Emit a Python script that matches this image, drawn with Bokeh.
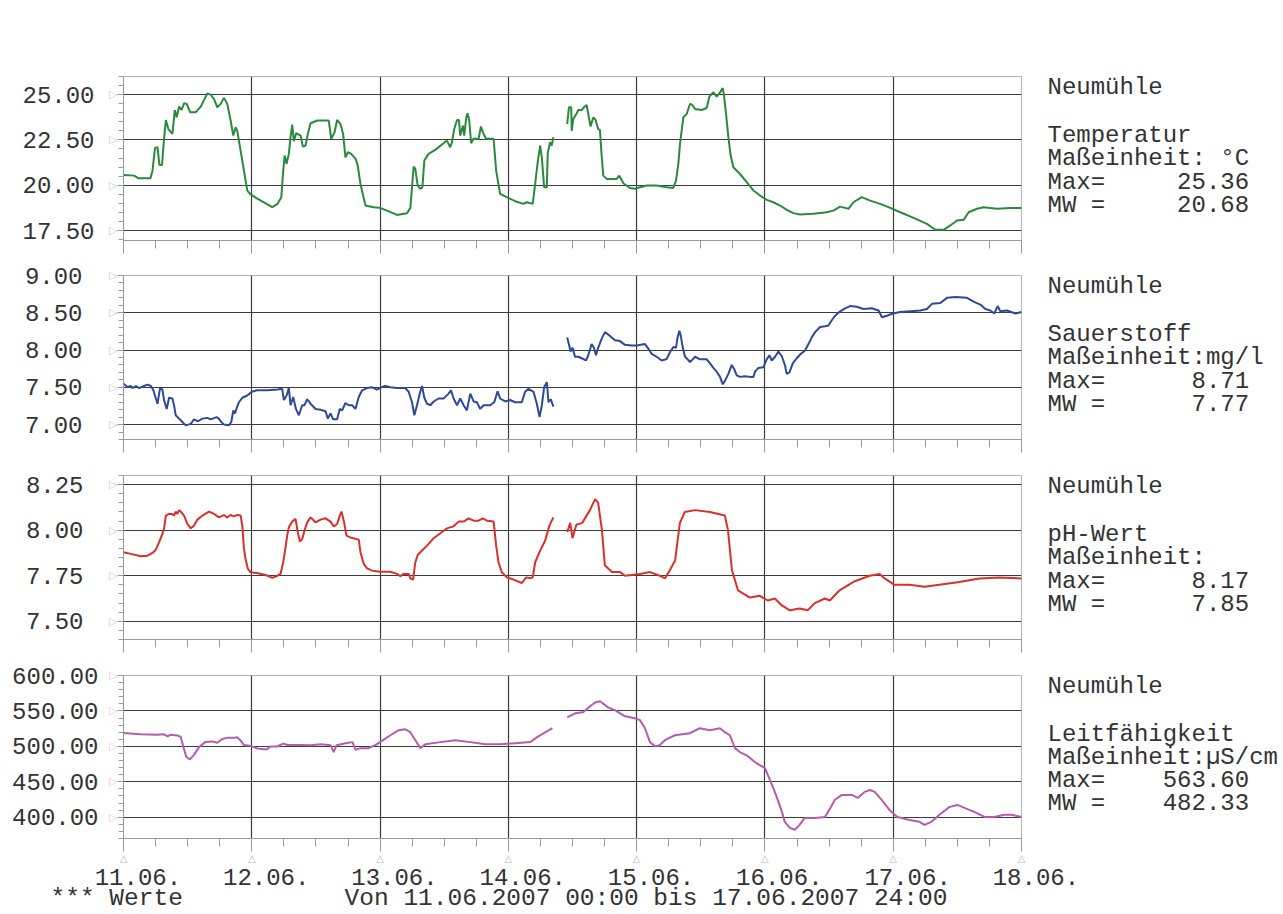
import math
from bokeh.plotting import figure
from bokeh.models import (Range1d, FixedTicker, NumeralTickFormatter, LinearAxis,
                          CustomJSTickFormatter, AllLabels)
from bokeh.layouts import column
from bokeh.embed import file_html
from bokeh.resources import INLINE

NaN = float("nan")
FONT = "Liberation Mono"
TXT = "#333333"
NB = "\u00a0"

# ---------------- data (day offset from 11.06.2007 00:00) ----------------
date_labels = ["11.06.", "12.06.", "13.06.", "14.06.", "15.06.", "16.06.", "17.06.", "18.06."]
station = "Neumühle"
footer = ["*** Werte", "Von 11.06.2007 00:00", "bis 17.06.2007 24:00"]

temp_day = [0, 0.083, 0.114, 0.21, 0.226, 0.246, 0.265, 0.28, 0.30, 0.316, 0.33, 0.35, 0.381, 0.40, 0.415,
            0.433, 0.452, 0.472, 0.493, 0.519, 0.563, 0.602, 0.654, 0.68, 0.705, 0.731, 0.757, 0.783, 0.809,
            0.835, 0.856, 0.874, 0.887, 0.913, 0.939, 0.965, 0.991, 1.04, 1.16, 1.2, 1.23, 1.245, 1.256, 1.271,
            1.289, 1.302, 1.315, 1.328, 1.346, 1.38, 1.398, 1.419, 1.437, 1.458, 1.51, 1.6, 1.619, 1.645, 1.665,
            1.691, 1.712, 1.73, 1.75, 1.775, 1.81, 1.826, 1.847, 1.886, 1.95, 2.0, 2.054, 2.132, 2.21, 2.236,
            2.25, 2.262, 2.275, 2.293, 2.314, 2.33, 2.345, 2.378, 2.43, 2.495, 2.521, 2.547, 2.56, 2.578, 2.6,
            2.615, 2.625, 2.646, 2.656, 2.672, 2.682, 2.695, 2.71, 2.728, 2.768, 2.786, 2.807, 2.827, 2.885,
            2.905, 2.936, 2.988, 3.053, 3.118, 3.144, 3.19, 3.209, 3.227, 3.248, 3.261, 3.279, 3.30, 3.307,
            3.325, 3.338, 3.351, 3.40,
            3.459, 3.472, 3.49, 3.494, 3.506, 3.53, 3.545, 3.571, 3.589, 3.61, 3.623, 3.641, 3.662, 3.68, 3.70,
            3.714, 3.727, 3.74, 3.766, 3.844, 3.865, 3.896, 3.948, 3.987, 4.026, 4.078, 4.156, 4.234, 4.286,
            4.307, 4.325, 4.338, 4.364, 4.377, 4.39, 4.416, 4.434, 4.455, 4.507, 4.546, 4.567, 4.598, 4.624,
            4.645, 4.671, 4.681, 4.697, 4.715, 4.733, 4.754, 4.806, 4.858, 4.91, 4.962, 5.014, 5.066, 5.118,
            5.17, 5.222, 5.274, 5.378, 5.482, 5.534, 5.586, 5.625, 5.651, 5.69, 5.755, 5.82, 5.899, 5.977,
            6.055, 6.159, 6.263, 6.328, 6.393, 6.445, 6.497, 6.549, 6.588, 6.653, 6.705, 6.809, 6.913, 7.0]
temp_val = [20.57, 20.53, 20.39, 20.39, 20.8, 22.06, 22.1, 21.12, 21.12, 22.56, 23.6, 23.1, 22.83, 24.15, 23.75,
            24.34, 24.15, 24.52, 24.49, 24.03, 24.03, 24.34, 25.07, 25.0, 24.76, 24.3, 24.49, 24.82, 24.49,
            23.57, 22.74, 23.2, 23.0, 21.9, 20.8, 19.7, 19.49, 19.28, 18.79, 18.97, 19.34, 20.8, 21.64, 21.18,
            21.73, 22.65, 23.35, 22.43, 22.87, 22.74, 22.13, 22.19, 22.83, 23.42, 23.57, 23.57, 22.56, 22.92, 23.6,
            23.38, 22.83, 21.54, 21.82, 21.73, 21.45, 21.08, 20.07, 18.88, 18.79, 18.75, 18.6, 18.36, 18.45, 18.75,
            19.98, 21.03, 20.9, 19.98, 19.8, 19.89, 21.36, 21.73, 21.95, 22.32, 22.46, 22.1, 22.37, 23.1, 23.6,
            23.6, 22.74, 23.29, 22.74, 23.75, 23.97, 23.57, 22.32, 22.56, 22.56, 23.24, 22.83, 22.56, 22.56,
            20.8, 19.52, 19.34, 19.12, 18.97, 19.06, 18.97, 20.07, 21.18, 22.19, 21.54, 19.89, 19.89, 21.77,
            22.37, 22.19, 22.65, NaN,
            23.38, 24.3, 24.3, 23.0, 23.66, 23.93, 24.15, 24.15, 24.3, 24.43, 23.93, 23.24, 23.75, 23.6, 23.1,
            23.05, 21.64, 20.53, 20.35, 20.35, 20.53, 20.11, 19.85, 19.8, 19.89, 19.98, 19.98, 19.89, 19.85,
            20.26, 21.18, 22.28, 23.75, 23.84, 23.93, 24.49, 24.43, 24.21, 24.15, 24.26, 24.89, 25.13, 24.89,
            25.07, 25.36, 24.94, 23.93, 22.65, 21.64, 20.99, 20.62, 20.17, 19.71, 19.43, 19.19, 19.06, 18.88,
            18.64, 18.46, 18.38, 18.42, 18.51, 18.6, 18.82, 18.75, 18.7, 19.06, 19.34, 19.15, 18.97, 18.75,
            18.51, 18.2, 17.87, 17.54, 17.54, 17.78, 18.05, 18.09, 18.51, 18.7, 18.79, 18.7, 18.75, 18.75]

o2_day = [0, 0.031, 0.057, 0.070, 0.096, 0.122, 0.16, 0.187, 0.213, 0.233, 0.252, 0.265, 0.285, 0.303, 0.316,
          0.337, 0.355, 0.381, 0.394, 0.407, 0.433, 0.459, 0.485, 0.524, 0.55, 0.581, 0.615, 0.654, 0.68,
          0.726, 0.744, 0.757, 0.783, 0.822, 0.84, 0.856, 0.869, 0.882, 0.9, 0.926, 0.965, 1.0, 1.04, 1.12,
          1.2, 1.237, 1.25, 1.271, 1.289, 1.302, 1.323, 1.344, 1.367, 1.393, 1.411, 1.432, 1.458, 1.497,
          1.536, 1.575, 1.593, 1.614, 1.634, 1.665, 1.686, 1.704, 1.73, 1.756, 1.782, 1.808, 1.834, 1.86,
          1.899, 1.938, 1.977, 2.008, 2.04, 2.08, 2.132, 2.197, 2.223, 2.249, 2.267, 2.288, 2.309, 2.327,
          2.345, 2.366, 2.392, 2.418, 2.456, 2.495, 2.534, 2.553, 2.573, 2.6, 2.625, 2.651, 2.677, 2.703,
          2.729, 2.755, 2.781, 2.807, 2.859, 2.89, 2.916, 2.936, 2.975, 3.014, 3.053, 3.105, 3.131, 3.157,
          3.196, 3.222, 3.243, 3.261, 3.279, 3.30, 3.313, 3.331, 3.351, 3.40,
          3.459, 3.474, 3.485, 3.501, 3.519, 3.545, 3.571, 3.605, 3.623, 3.649, 3.667, 3.683, 3.70, 3.727,
          3.753, 3.792, 3.831, 3.87, 3.909, 3.961, 4.0, 4.065, 4.091, 4.117, 4.156, 4.195, 4.234, 4.26,
          4.286, 4.307, 4.317, 4.333, 4.343, 4.359, 4.377, 4.395, 4.416, 4.437, 4.455, 4.494, 4.546, 4.572,
          4.598, 4.624, 4.65, 4.671, 4.689, 4.715, 4.741, 4.759, 4.78, 4.806, 4.845, 4.884, 4.91, 4.923,
          4.949, 4.988, 5.014, 5.035, 5.053, 5.079, 5.105, 5.131, 5.157, 5.17, 5.191, 5.217, 5.248, 5.28,
          5.313, 5.339, 5.365, 5.391, 5.43, 5.469, 5.495, 5.521, 5.547, 5.586, 5.625, 5.664, 5.716, 5.768,
          5.833, 5.886, 5.912, 5.951, 5.997, 6.055, 6.133, 6.211, 6.263, 6.302, 6.367, 6.419, 6.484, 6.575,
          6.627, 6.679, 6.718, 6.757, 6.788, 6.814, 6.835, 6.887, 6.953, 7.0]
o2_val = [7.549, 7.504, 7.518, 7.49, 7.518, 7.49, 7.518, 7.536, 7.518, 7.46, 7.35, 7.28, 7.49, 7.47, 7.33,
          7.21, 7.36, 7.35, 7.26, 7.125, 7.08, 7.035, 6.99, 7.01, 7.07, 7.045, 7.08, 7.09, 7.07,
          7.10, 7.08, 7.045, 7.0, 6.99, 7.035, 7.19, 7.15, 7.22, 7.30, 7.36, 7.39, 7.44, 7.46, 7.46,
          7.47, 7.48, 7.33, 7.39, 7.49, 7.26, 7.37, 7.21, 7.125, 7.26, 7.26, 7.34, 7.28, 7.21,
          7.20, 7.18, 7.08, 7.15, 7.07, 7.07, 7.21, 7.19, 7.29, 7.26, 7.26, 7.21, 7.37, 7.46,
          7.49, 7.50, 7.47, 7.50, 7.518, 7.50, 7.49, 7.49, 7.44, 7.30, 7.125, 7.26, 7.415, 7.518,
          7.36, 7.28, 7.26, 7.31, 7.35, 7.35, 7.415, 7.46, 7.35, 7.26, 7.35, 7.26, 7.19, 7.415,
          7.31, 7.30, 7.21, 7.26, 7.26, 7.30, 7.445, 7.35, 7.31, 7.33, 7.30, 7.30, 7.44, 7.48,
          7.44, 7.28, 7.10, 7.26, 7.50, 7.57, 7.30, 7.34, 7.24, NaN,
          8.17, 8.06, 7.98, 8.03, 7.91, 7.91, 7.89, 7.86, 7.93, 8.08, 8.03, 7.93, 8.03, 8.15,
          8.24, 8.19, 8.13, 8.12, 8.07, 8.06, 8.06, 8.08, 8.02, 7.95, 7.91, 7.86, 7.88, 7.97,
          8.04, 8.03, 8.15, 8.26, 8.20, 8.04, 7.91, 7.88, 7.84, 7.875, 7.91, 7.875, 7.875, 7.82,
          7.76, 7.71, 7.64, 7.54, 7.59, 7.68, 7.80, 7.75, 7.66, 7.64, 7.65, 7.64, 7.64, 7.71,
          7.76, 7.77, 7.875, 7.93, 7.86, 7.91, 7.98, 7.92, 7.79, 7.68, 7.70, 7.82, 7.89, 7.95,
          7.995, 8.08, 8.17, 8.24, 8.31, 8.32, 8.33, 8.40, 8.46, 8.52, 8.56, 8.59, 8.58, 8.55,
          8.56, 8.53, 8.44, 8.46, 8.49, 8.51, 8.52, 8.53, 8.55, 8.62, 8.63, 8.70, 8.71, 8.70,
          8.65, 8.61, 8.55, 8.53, 8.49, 8.59, 8.52, 8.53, 8.49, 8.51]

ph_day = [0, 0.057, 0.135, 0.187, 0.226, 0.252, 0.278, 0.303, 0.316, 0.33, 0.355, 0.381, 0.394, 0.407, 0.42,
          0.433, 0.451, 0.472, 0.498, 0.524, 0.55, 0.576, 0.615, 0.667, 0.706, 0.744, 0.783, 0.809, 0.835,
          0.861, 0.887, 0.913, 0.926, 0.939, 0.952, 0.97, 0.991, 1.04, 1.108, 1.16, 1.2, 1.224, 1.245, 1.263,
          1.276, 1.289, 1.315, 1.341, 1.359, 1.375, 1.393, 1.411, 1.432, 1.458, 1.497, 1.536, 1.575, 1.614,
          1.639, 1.665, 1.686, 1.699, 1.717, 1.738, 1.769, 1.808, 1.834, 1.847, 1.873, 1.899, 1.938, 1.997,
          2.08, 2.132, 2.158, 2.184, 2.223, 2.236, 2.257, 2.275, 2.293, 2.327, 2.366, 2.418, 2.47, 2.521,
          2.573, 2.612, 2.651, 2.69, 2.729, 2.768, 2.8, 2.833, 2.885, 2.905, 2.923, 2.949, 2.988, 3.04,
          3.105, 3.139, 3.17, 3.19, 3.209, 3.248, 3.287, 3.32, 3.351, 3.40,
          3.459, 3.482, 3.5, 3.53, 3.576, 3.636, 3.676, 3.70, 3.73, 3.752, 3.807, 3.87, 3.909, 4.026,
          4.104, 4.18, 4.22, 4.259, 4.30, 4.337, 4.376, 4.455, 4.571, 4.688, 4.712, 4.743, 4.79, 4.883,
          4.96, 5.022, 5.077, 5.132, 5.194, 5.272, 5.333, 5.389, 5.467, 5.506, 5.582, 5.70, 5.817, 5.894,
          5.933, 6.01, 6.127, 6.244, 6.36, 6.516, 6.672, 6.828, 7.0]
ph_val = [7.879, 7.87, 7.857, 7.86, 7.875, 7.893, 7.934, 7.98, 8.007, 8.08, 8.089, 8.089, 8.08, 8.102, 8.089,
          8.11, 8.098, 8.08, 8.034, 8.01, 8.025, 8.058, 8.08, 8.102, 8.089, 8.07, 8.083, 8.07, 8.083,
          8.076, 8.083, 8.08, 8.025, 7.897, 7.84, 7.787, 7.769, 7.765, 7.754, 7.738, 7.75, 7.76, 7.824, 7.906,
          7.97, 8.016, 8.047, 8.062, 7.988, 7.937, 7.952, 7.998, 8.043, 8.07, 8.043, 8.058, 8.065, 8.047,
          8.02, 8.034, 8.08, 8.102, 8.052, 7.97, 7.96, 7.952, 7.948, 7.879, 7.815, 7.79, 7.778, 7.772,
          7.772, 7.76, 7.747, 7.76, 7.76, 7.736, 7.729, 7.824, 7.864, 7.888, 7.915, 7.956, 7.983, 8.01,
          8.021, 8.047, 8.047, 8.065, 8.052, 8.052, 8.065, 8.052, 8.047, 7.915, 7.824, 7.769, 7.741, 7.729,
          7.71, 7.741, 7.736, 7.741, 7.824, 7.888, 7.943, 8.025, 8.07, NaN,
          7.989, 8.04, 7.956, 8.03, 8.04, 8.11, 8.17, 8.15, 7.998, 7.807, 7.77, 7.77, 7.75, 7.76,
          7.77, 7.75, 7.735, 7.78, 7.834, 8.04, 8.10, 8.11, 8.10, 8.08, 8.0, 7.78, 7.67, 7.63,
          7.64, 7.614, 7.625, 7.587, 7.56, 7.57, 7.56, 7.6, 7.625, 7.614, 7.67, 7.72, 7.75, 7.76,
          7.735, 7.70, 7.70, 7.69, 7.70, 7.715, 7.735, 7.74, 7.735]

lf_day = [0, 0.135, 0.265, 0.317, 0.343, 0.369, 0.42, 0.446, 0.467, 0.49, 0.518, 0.549, 0.589, 0.64, 0.692,
          0.731, 0.77, 0.809, 0.86, 0.886, 0.912, 0.939, 0.996, 1.042, 1.094, 1.12, 1.145, 1.197, 1.245,
          1.276, 1.38, 1.458, 1.536, 1.614, 1.638, 1.661, 1.73, 1.785, 1.808, 1.847, 1.909, 1.963, 2.0,
          2.08, 2.142, 2.197, 2.236, 2.275, 2.314, 2.353, 2.47, 2.587, 2.704, 2.82, 2.937, 3.054, 3.17,
          3.225, 3.29, 3.343, 3.40,
          3.459, 3.52, 3.583, 3.637, 3.676, 3.715, 3.777, 3.83, 3.91, 3.987, 4.026, 4.065, 4.104, 4.143,
          4.18, 4.22, 4.298, 4.415, 4.493, 4.571, 4.649, 4.688, 4.727, 4.766, 4.805, 4.867, 4.922, 4.96,
          5.0, 5.04, 5.077, 5.1, 5.132, 5.155, 5.194, 5.233, 5.27, 5.31, 5.389, 5.467, 5.5, 5.544,
          5.6, 5.677, 5.724, 5.777, 5.817, 5.856, 5.91, 5.972, 6.033, 6.127, 6.205, 6.244, 6.298, 6.36,
          6.44, 6.5, 6.555, 6.633, 6.711, 6.789, 6.866, 6.921, 7.0]
lf_val = [519, 517, 516.5, 517, 514, 516.5, 515.5, 513.5, 499, 485, 481.6, 488, 499, 506.3, 507,
          505, 510.5, 512, 512, 513, 508.5, 501.8, 500.4, 497, 496, 496, 499.8, 499.8, 504,
          502, 502, 501.7, 503, 501.7, 492, 501.7, 504.5, 506, 495, 497.5, 497.5, 501.7, 506,
          515.7, 522.7, 524, 520, 508.7, 497.5, 503, 506, 508.7, 506, 503, 503, 504.5, 506,
          513, 520, 525.6, NaN,
          541, 546.6, 548, 556.5, 562, 563.6, 555, 551, 542.4, 539.6, 537, 525.6, 506, 500.3,
          501.7, 508.7, 515.7, 518.5, 525.6, 522.8, 525.6, 520, 515.7, 497.5, 492, 486.2, 477.8, 473.6,
          469.4, 452.5, 435.7, 424.4, 407.6, 393.5, 385, 382.3, 389.3, 399, 399, 400.4, 410, 424.4,
          431.5, 431.5, 427.3, 435.7, 438.5, 435.7, 424.4, 410, 400.4, 396, 393.5, 389.3, 393.5, 403.4,
          414.6, 417.4, 413.2, 407.6, 400.4, 400.4, 403.4, 403.4, 400.4]

panels = [
    dict(name="Temperatur", unit="Maßeinheit: °C", vmax="25.36", mw="20.68",
         x=temp_day, y=temp_val, color="#2a8a3c", tri="#b9d3bb",
         yr=(16.95, 26.0), majors=[17.5, 20.0, 22.5, 25.0], minor_step=0.5, standoff=6,
         top=76, bottom=17),
    dict(name="Sauerstoff", unit="Maßeinheit:mg/l", vmax="8.71", mw="7.77",
         x=o2_day, y=o2_val, color="#2c4a96", tri="#c3c9da",
         yr=(6.8, 9.0), majors=[7.0, 7.5, 8.0, 8.5, 9.0], minor_step=0.1, standoff=18,
         top=18, bottom=17),
    dict(name="pH-Wert", unit="Maßeinheit:", vmax="8.17", mw="7.85",
         x=ph_day, y=ph_val, color="#d8302c", tri="#ecbcbc",
         yr=(7.40, 8.30), majors=[7.5, 7.75, 8.0, 8.25], minor_step=0.05, standoff=17,
         top=19, bottom=17),
    dict(name="Leitfähigkeit", unit="Maßeinheit:µS/cm", vmax="563.60", mw="482.33",
         x=lf_day, y=lf_val, color="#b45cae", tri="#e6c6de",
         yr=(370.0, 600.0), majors=[400.0, 450.0, 500.0, 550.0, 600.0], minor_step=10.0, standoff=2,
         top=19, bottom=75),
]

W = 1283
LEFT = 123
FW = 898
RIGHT = W - LEFT - FW   # 262
FH = 164
TEXT_X = 1047
# vertical centres of the right-hand text rows, px below the frame top
ROW_OFF = [10.6, 59.0, 82.3, 105.6, 129.0]

# footer line: one monospaced string, padded so that it sits centred under the frame
footer_text = footer[0] + NB * 11 + footer[1] + NB + footer[2] + NB * 10

figs = []
for i, pd in enumerate(panels):
    y0, y1 = pd["yr"]
    H = pd["top"] + FH + pd["bottom"]
    p = figure(width=W, height=H, output_backend="svg", toolbar_location=None,
               x_range=Range1d(0, 7), y_range=Range1d(y0, y1),
               min_border_left=LEFT, min_border_right=RIGHT,
               min_border_top=pd["top"], min_border_bottom=pd["bottom"])
    p.outline_line_color = "#b4b4b4"
    p.outline_line_width = 1
    p.border_fill_color = "white"

    p.xgrid.ticker = FixedTicker(ticks=[1, 2, 3, 4, 5, 6])
    p.xgrid.grid_line_color = "#3c3c3c"
    p.xgrid.grid_line_width = 1.2
    p.ygrid.ticker = FixedTicker(ticks=pd["majors"])
    p.ygrid.grid_line_color = "#3c3c3c"
    p.ygrid.grid_line_width = 1.2

    minors = []
    v = math.ceil(y0 / pd["minor_step"] - 1e-6) * pd["minor_step"]
    while v <= y1 + 1e-9:
        minors.append(round(v, 4))
        v += pd["minor_step"]

    # inner y axis: ticks + small triangles
    ya = p.yaxis[0]
    ya.ticker = FixedTicker(ticks=pd["majors"], minor_ticks=minors)
    ya.formatter = CustomJSTickFormatter(code="return '\u25b7'")
    ya.axis_line_color = "#9a9a9a"
    ya.major_tick_line_color = "#9a9a9a"
    ya.minor_tick_line_color = "#9a9a9a"
    ya.major_tick_in = 0
    ya.major_tick_out = 6
    ya.minor_tick_in = 0
    ya.minor_tick_out = 5
    ya.major_label_standoff = 0
    ya.major_label_text_font = "DejaVu Sans"
    ya.major_label_text_font_size = "11px"
    ya.major_label_text_color = pd["tri"]

    # outer y axis: numbers
    na = LinearAxis(ticker=FixedTicker(ticks=pd["majors"]),
                    formatter=NumeralTickFormatter(format="0.00"))
    na.axis_line_color = None
    na.major_tick_line_color = None
    na.minor_tick_line_color = None
    na.major_label_standoff = pd["standoff"]
    na.major_label_text_font = FONT
    na.major_label_text_font_size = "24px"
    na.major_label_text_color = TXT
    p.add_layout(na, "left")

    # right-hand text block as a right axis
    ppu = FH / (y1 - y0)
    tpos = [y1 - off / ppu for off in ROW_OFF]
    pad = 14 - 4 - len(pd["vmax"])
    pad2 = 14 - 4 - len(pd["mw"])
    texts = [station, pd["name"], pd["unit"],
             "Max=" + NB * pad + pd["vmax"], "MW =" + NB * pad2 + pd["mw"]]
    ra = LinearAxis(ticker=FixedTicker(ticks=tpos))
    ra.major_label_overrides = {t: s for t, s in zip(tpos, texts)}
    ra.major_label_policy = AllLabels()
    ra.axis_line_color = None
    ra.major_tick_line_color = None
    ra.minor_tick_line_color = None
    ra.major_tick_out = 0
    ra.major_label_standoff = TEXT_X - (LEFT + FW)
    ra.major_label_text_font = FONT
    ra.major_label_text_font_size = "24px"
    ra.major_label_text_color = TXT
    p.add_layout(ra, "right")

    # x axis (ticks)
    xa = p.xaxis[0]
    xa.ticker = FixedTicker(ticks=[0, 1, 2, 3, 4, 5, 6, 7],
                            minor_ticks=[k / 4 for k in range(29)])
    xa.axis_line_color = "#9a9a9a"
    xa.major_tick_line_color = "#9a9a9a"
    xa.minor_tick_line_color = "#9a9a9a"
    xa.major_tick_in = 0
    xa.major_tick_out = 13
    xa.minor_tick_in = 0
    xa.minor_tick_out = 8
    if i < len(panels) - 1:
        xa.major_label_standoff = 0
        xa.major_label_text_font_size = "1px"
        xa.major_label_text_alpha = 0
    else:
        xa.formatter = CustomJSTickFormatter(code="return '\u25b3'")
        xa.major_label_standoff = 1
        xa.major_label_text_font = "DejaVu Sans"
        xa.major_label_text_font_size = "10px"
        xa.major_label_text_color = "#b8b8b8"
        da = LinearAxis(ticker=FixedTicker(ticks=[0, 1, 2, 3, 4, 5, 6, 7]))
        da.major_label_overrides = {d: NB + NB + lab for d, lab in enumerate(date_labels)}
        da.major_label_policy = AllLabels()
        da.axis_line_color = None
        da.major_tick_line_color = None
        da.minor_tick_line_color = None
        da.major_label_standoff = -8
        da.major_label_text_font = FONT
        da.major_label_text_font_size = "24px"
        da.major_label_text_color = TXT
        da.axis_label = footer_text
        da.axis_label_standoff = -10
        da.axis_label_text_font = FONT
        da.axis_label_text_font_size = "24.5px"
        da.axis_label_text_font_style = "normal"
        da.axis_label_text_color = TXT
        p.add_layout(da, "below")

    p.line(pd["x"], pd["y"], line_color=pd["color"], line_width=2)
    figs.append(p)

layout = column(*figs)
open("out.html", "w").write(file_html(layout, INLINE))
